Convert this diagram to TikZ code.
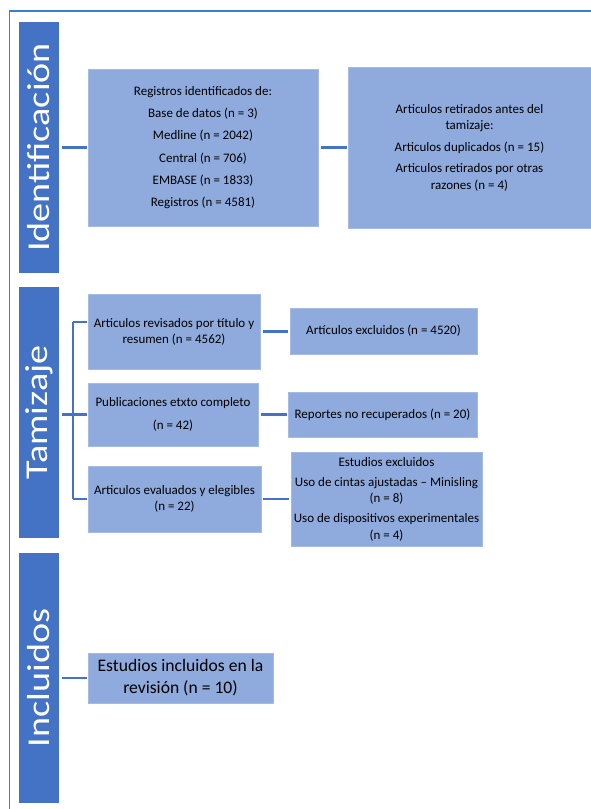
\documentclass[tikz,border=0pt]{standalone}
\usepackage{fontspec}
\setmainfont{Carlito}
\newfontfamily\barfont[FakeStretch=1.2]{Carlito}
\definecolor{barblue}{HTML}{4472C4}
\definecolor{boxblue}{HTML}{8FAADC}
\definecolor{lineblue}{HTML}{4472C4}
\definecolor{frameblue}{HTML}{3A7FD5}
\tikzset{
  bar/.style={fill=barblue, draw=none, inner sep=0pt, minimum width=40pt},
  bartext/.style={rotate=90, text=white, font=\barfont\fontsize{31.8}{38}\selectfont, inner sep=0pt},
  boxnode/.style={fill=boxblue, draw=boxblue!80!white, line width=0.4pt, inner sep=0pt, align=center,
    font=\fontsize{13}{16.2}\selectfont},
  link/.style={draw=lineblue, line width=2.1pt},
}
\begin{document}
\begin{tikzpicture}[x=1pt,y=-1pt]
\useasboundingbox (0,0) rectangle (591,809);
\fill[white] (0,0) rectangle (591,809);
% frame
\draw[frameblue, line width=1.3pt] (9.5,809) -- (9.5,11) -- (591,11);

% bars
\node[bar, minimum height=251pt] (idbar) at (39,147.5) {};
\node[bartext] (idlab) at (39,147.5) {Identificación};
\node[bar, minimum height=251pt] (tambar) at (39,412.5) {};
\node[bartext] (tamlab) at (39,412.5) {Tamizaje};
\node[bar, minimum height=250pt] (incbar) at (39,678) {};
\node[bartext] (inclab) at (39,678) {Incluidos};

% identification
\node[boxnode, minimum width=230pt, minimum height=157pt] (reg) at (203,147.5)
  {Registros identificados de:\\[6pt] Base de datos (n = 3)\\[6pt] Medline (n = 2042)\\[6pt]
   Central (n = 706)\\[6pt] EMBASE (n = 1833)\\[6pt] Registros (n = 4581)};
\node[boxnode, minimum width=243pt, minimum height=161pt] (ret) at (469.5,147.5)
  {Articulos retirados antes del\\ tamizaje:\\[5.5pt] Articulos duplicados (n = 15)\\[5.5pt]
   Articulos retirados por otras\\ razones (n = 4)};

% screening
\node[boxnode, minimum width=172pt, minimum height=75pt] (b1) at (174,331.5)
  {Articulos revisados por título y\\ resumen (n = 4562)};
\node[boxnode, minimum width=187pt, minimum height=46pt] (ex1) at (383.5,331)
  {Artículos excluidos (n = 4520)};
\node[boxnode, minimum width=170pt, minimum height=63pt] (b3) at (173,414.5)
  {Publicaciones etxto completo\\[7pt] (n = 42)};
\node[boxnode, minimum width=189pt, minimum height=45pt] (rep) at (382.5,414.5)
  {Reportes no recuperados (n = 20)};
\node[boxnode, minimum width=173pt, minimum height=66pt] (b5) at (174.5,499)
  {Articulos evaluados y elegibles\\ (n = 22)};
\node[boxnode, minimum width=191pt, minimum height=94pt] (est) at (386.5,499)
  {Estudios excluidos\\[4pt] Uso de cintas ajustadas -- Minisling\\ (n = 8)\\[4pt]
   Uso de dispositivos experimentales\\ (n = 4)};

% included
\node[boxnode, minimum width=185pt, minimum height=50pt, font=\fontsize{17.6}{21.8}\selectfont] (inc) at (180.5,678)
  {Estudios incluidos en la\\ revisión (n = 10)};

% connectors identification
\draw[link, shorten <=3pt, shorten >=1pt] (idbar.east |- reg.west) -- (reg.west);
\draw[link, shorten <=3pt, shorten >=1pt] (reg.east) -- (reg.east -| ret.west);

% screening tree
\coordinate (trunk) at (73,414.5);
\coordinate (t1) at (73,322);
\coordinate (t3) at (73,414.5);
\coordinate (t5) at (73,499);
\draw[link, shorten <=3pt] (tambar.east |- trunk) -- (trunk);
\draw[link] (t1) -- (t5);
\draw[link, shorten >=1pt] (t1) -- (t1 -| b1.west);
\draw[link, shorten >=1pt] (t3) -- (b3.west);
\draw[link, shorten >=1pt] (t5) -- (b5.west);
\draw[link, shorten <=3pt, shorten >=2pt] (b1.east) -- (b1.east -| ex1.west);
\draw[link, shorten <=3pt, shorten >=1pt] (b3.east) -- (rep.west);
\draw[link, shorten <=2pt, shorten >=2pt] (b5.east) -- (b5.east -| est.west);

% included
\draw[link, shorten <=3pt, shorten >=1pt] (incbar.east |- inc.west) -- (inc.west);
\end{tikzpicture}
\end{document}
